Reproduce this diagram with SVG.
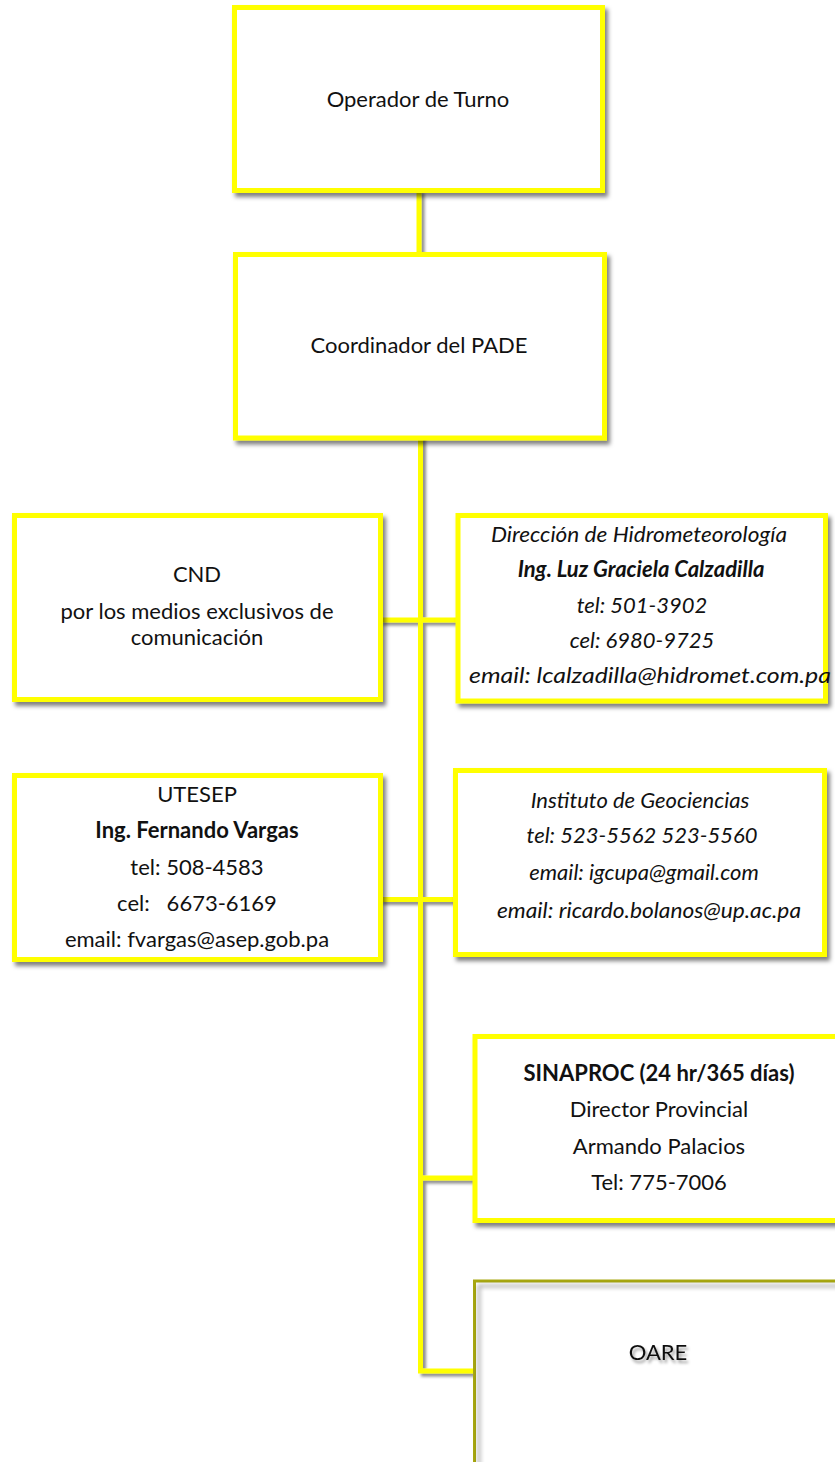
<svg xmlns="http://www.w3.org/2000/svg" width="835" height="1462" viewBox="0 0 835 1462">
<defs>
<filter id="sh" x="-10%" y="-10%" width="130%" height="130%">
<feDropShadow dx="3" dy="4" stdDeviation="2" flood-color="#000" flood-opacity="0.5"/>
</filter>
<filter id="lsh" x="-50%" y="-10%" width="200%" height="130%">
<feDropShadow dx="3" dy="3" stdDeviation="1.6" flood-color="#000" flood-opacity="0.45"/>
</filter>
<filter id="tsh" x="-20%" y="-40%" width="150%" height="200%">
<feDropShadow dx="2" dy="3" stdDeviation="1.5" flood-color="#000" flood-opacity="0.4"/>
</filter>
<filter id="blur"><feGaussianBlur stdDeviation="2"/></filter>
</defs>
<style>
.box{fill:#fff;stroke:#ffff00;stroke-width:5;filter:url(#sh)}
.con{fill:none;stroke:#ffff00;stroke-width:5;stroke-linejoin:miter}
text{font-family:Lato,"Open Sans","Liberation Sans",sans-serif;font-size:22px;fill:#111;text-anchor:middle}
.i{font-style:italic}
.b{font-weight:bold}
</style>
<g id="connectors" filter="url(#lsh)">
<line class="con" x1="419" y1="190" x2="419" y2="256"/>
<polyline class="con" points="420.5,436 420.5,1371 474,1371"/>
<line class="con" x1="380" y1="620" x2="459" y2="620"/>
<line class="con" x1="380" y1="899.5" x2="456" y2="899.5"/>
<line class="con" x1="420.5" y1="1178" x2="476" y2="1178"/>
</g>
<g id="operador">
<rect class="box" x="234.5" y="7.5" width="368" height="183"/>
<text x="418" y="107">Operador de Turno</text>
</g>
<g id="coordinador">
<rect class="box" x="235.5" y="254.5" width="369" height="183.5"/>
<text x="419" y="353">Coordinador del PADE</text>
</g>
<g id="cnd">
<rect class="box" x="14.5" y="515.5" width="366" height="184"/>
<text x="197" y="582">CND</text>
<text x="197" y="619">por los medios exclusivos de</text>
<text x="197" y="645">comunicación</text>
</g>
<g id="hidromet">
<rect class="box" x="458" y="515.5" width="367.5" height="185.5"/>
<text class="i" x="639" y="542" textLength="296" lengthAdjust="spacingAndGlyphs">Dirección de Hidrometeorología</text>
<text class="i b" x="641" y="577">Ing. Luz Graciela Calzadilla</text>
<text class="i" x="642" y="613">tel: 501-3902</text>
<text class="i" x="642" y="648">cel: 6980-9725</text>
<text class="i" x="650" y="683" textLength="362" lengthAdjust="spacingAndGlyphs">email: lcalzadilla@hidromet.com.pa</text>
</g>
<g id="utesep">
<rect class="box" x="14.5" y="775.5" width="366" height="184"/>
<text x="197" y="802">UTESEP</text>
<text class="b" x="197" y="838">Ing. Fernando Vargas</text>
<text x="197" y="875">tel: 508-4583</text>
<text x="197" y="911" xml:space="preserve">cel:   6673-6169</text>
<text x="197" y="947">email: fvargas@asep.gob.pa</text>
</g>
<g id="geociencias">
<rect class="box" x="455.5" y="770.5" width="369" height="184"/>
<text class="i" x="640" y="808">Instituto de Geociencias</text>
<text class="i" x="642" y="843">tel: 523-5562 523-5560</text>
<text class="i" x="644" y="880">email: igcupa@gmail.com</text>
<text class="i" x="649" y="918" textLength="304" lengthAdjust="spacingAndGlyphs">email: ricardo.bolanos@up.ac.pa</text>
</g>
<g id="sinaproc">
<rect class="box" x="475" y="1036.5" width="380" height="184"/>
<text class="b" x="659" y="1081">SINAPROC (24 hr/365 días)</text>
<text x="659" y="1117">Director Provincial</text>
<text x="659" y="1154">Armando Palacios</text>
<text x="659" y="1190">Tel: 775-7006</text>
</g>
<g id="oare">
<rect x="474.5" y="1281" width="400" height="200" fill="#fff" stroke="#a8a810" stroke-width="3"/>
<path d="M479,1500 L479,1286 L880,1286" fill="none" stroke="#000" stroke-opacity="0.3" stroke-width="3" filter="url(#blur)"/>
<text x="658" y="1360" filter="url(#tsh)">OARE</text>
</g>
</svg>
